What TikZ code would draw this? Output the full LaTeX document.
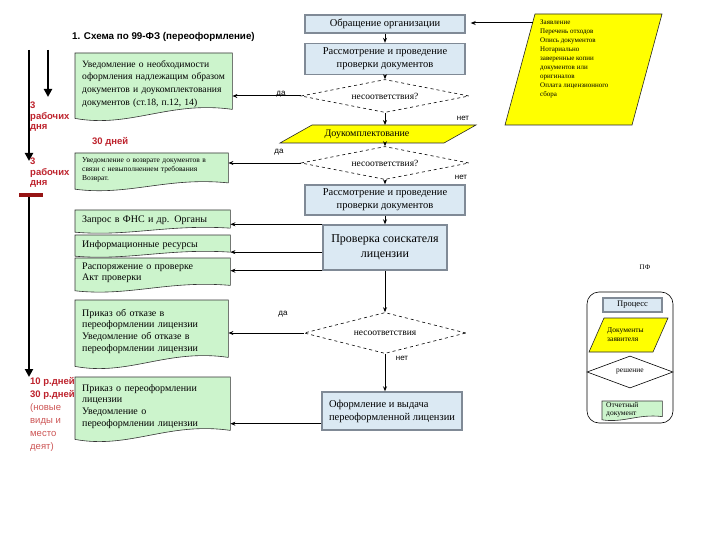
\documentclass[tikz,border=0pt]{standalone}
\usepackage{fontspec}
\setmainfont{Liberation Serif}
\newfontfamily\sansf{Liberation Sans}
\usetikzlibrary{arrows.meta,calc,backgrounds,shapes.geometric}
\definecolor{procf}{RGB}{219,233,243}
\definecolor{procb}{RGB}{128,138,150}
\definecolor{docf}{RGB}{204,244,204}
\definecolor{yel}{RGB}{255,255,0}
\definecolor{lab}{RGB}{190,35,45}
\definecolor{labl}{RGB}{205,85,85}
\definecolor{barc}{RGB}{150,20,20}
\tikzset{
  proc/.style={draw=procb, line width=1.4pt, fill=procf, align=center, inner sep=1pt, font=\fontsize{10.5}{13}\selectfont},
  decide/.style={diamond, draw, dashed, line width=0.6pt, fill=white, aspect=5, inner sep=0pt, font=\fontsize{9.5}{10}\selectfont},
  docn/.style={anchor=north west, inner xsep=7pt, inner ysep=0pt, align=left, font=\fontsize{10}{11.7}\selectfont},
  docshape/.style={draw=black!80, line width=0.6pt, fill=docf},
  yshape/.style={draw=black!85, line width=0.6pt, fill=yel},
  arr/.style={-{Stealth[length=5pt,width=4pt]}, line width=0.8pt},
  tl/.style={line width=2.6pt, -{Triangle[length=8pt,width=8pt]}},
  redlab/.style={text=lab, font=\sansf\bfseries\fontsize{9.5}{10.5}\selectfont, align=left, inner sep=0pt},
  small/.style={font=\sansf\fontsize{8}{9}\selectfont, inner sep=0pt},
}
\begin{document}
\begin{tikzpicture}[x=1pt,y=-1pt]
\useasboundingbox (0,0) rectangle (720,540);

% title
\node[anchor=west, inner sep=0pt, font=\sansf\bfseries\fontsize{9.8}{11}\selectfont] (title) at (72,37) {1. Схема по 99-ФЗ (переоформление)};

% timeline
\coordinate (t1a) at (29,50); \coordinate (t1b) at (29,161);
\coordinate (t2a) at (48,50); \coordinate (t2b) at (48,97);
\coordinate (bl) at (19,195); \coordinate (br) at (43,195);
\coordinate (t3a) at (29,195); \coordinate (t3b) at (29,377);
\draw[tl] (t1a) -- (t1b);
\draw[tl] (t2a) -- (t2b);
\draw[tl] (t3a) -- (t3b);
\draw[barc, line width=4pt] (bl) -- (br);

% red labels
\node[redlab, anchor=north west] (lab1) at (30,102) {3\\рабочих\\дня};
\node[redlab, anchor=north west] (lab2) at (30,158) {3\\рабочих\\дня};
\node[redlab, anchor=west] (lab3) at (92,142) {30 дней};
\node[redlab, anchor=north west, font=\sansf\bfseries\fontsize{9.5}{13}\selectfont] (lab4) at (30,377) {10 р.дней\\30 р.дней};
\node[redlab, anchor=north west, text=labl, font=\sansf\fontsize{9.5}{13}\selectfont] (lab5) at (30,403) {(новые\\виды и\\место\\деят)};

% left documents
\node[docn, text width=143pt, minimum height=61pt, font=\fontsize{9.6}{12.7}\selectfont] (doc1) at (75,53) {Уведомление о необходимости\\оформления надлежащим образом\\документов и доукомплектования\\документов (ст.18, п.12, 14)};
\node[docn, text width=139pt, minimum height=33pt, font=\fontsize{7.5}{9}\selectfont] (doc2) at (75,153) {Уведомление о возврате документов в\\связи с невыполнением требования\\Возврат.};
\node[docn, text width=141pt, minimum height=20pt] (doc3) at (75,210) {Запрос в ФНС и др. Органы};
\node[docn, text width=141pt, minimum height=19pt] (doc4) at (75,235) {Информационные ресурсы};
\node[docn, text width=141pt, minimum height=30pt, font=\fontsize{10}{11}\selectfont] (doc5) at (75,258) {Распоряжение о проверке\\Акт проверки};
\node[docn, text width=139pt, minimum height=62pt] (doc6) at (75,300) {Приказ об отказе в\\переоформлении лицензии\\Уведомление об отказе в\\переоформлении лицензии};
\node[docn, text width=141pt, minimum height=58pt] (doc7) at (75,377) {Приказ о переоформлении\\лицензии\\Уведомление о\\переоформлении лицензии};

% right request parallelogram
\draw[yshape] (535,14) -- (662,14) -- (632,125) -- (505,125) -- cycle;
\node[anchor=north west, align=left, inner sep=0pt, font=\fontsize{7}{9}\selectfont] (req) at (540,20) {Заявление\\Перечень отходов\\Опись документов\\Нотариально\\заверенные копии\\документов или\\оригиналов\\Оплата лицензионного\\сбора};
\coordinate (reqL) at (533,23);

% centre column
\node[proc, minimum width=160pt, minimum height=18pt] (b1) at (385,24) {Обращение организации};
\node[proc, minimum width=160pt, minimum height=31pt] (b2) at (385,59) {Рассмотрение и проведение\\проверки документов};
\node[decide, minimum width=168pt, minimum height=33pt] (dm1) at (385,96) {несоответствия?};
\draw[yshape] (280,143) -- (312,125) -- (476,125) -- (444,143) -- cycle;
\coordinate (p1t) at (385,125); \coordinate (p1b) at (385,143);
\node[font=\fontsize{10}{12}\selectfont, inner sep=0pt] (p1) at (367,134) {Доукомплектование};
\node[decide, minimum width=168pt, minimum height=33pt] (dm2) at (385,163) {несоответствия?};
\node[proc, minimum width=160pt, minimum height=30pt] (b3) at (385,200) {Рассмотрение и проведение\\проверки документов};
\node[proc, minimum width=124pt, minimum height=45pt, font=\fontsize{12}{15}\selectfont] (chk) at (385,247.5) {Проверка соискателя\\лицензии};
\node[decide, minimum width=162pt, minimum height=41pt] (dm3) at (385,333) {несоответствия};
\node[proc, minimum width=140pt, minimum height=38pt, align=left] (out) at (392,411) {Оформление и выдача\\переоформленной лицензии};

% legend
\node[font=\fontsize{7}{8}\selectfont, inner sep=0pt] (pf) at (645,267) {ПФ};
\draw[line width=0.6pt, rounded corners=12pt] (587,292) rectangle (673,423);
\node[proc, minimum width=59pt, minimum height=14pt, line width=1.2pt, font=\fontsize{8.5}{9}\selectfont] (lp) at (632.5,305) {Процесс};
\draw[yshape] (589,352) -- (604,318) -- (668,318) -- (653,352) -- cycle;
\node[anchor=west, align=left, inner sep=0pt, font=\fontsize{7.5}{9}\selectfont] (ld) at (607,335) {Документы\\заявителя};
\node[diamond, draw, line width=0.6pt, fill=white, aspect=5, inner sep=0pt, minimum width=86pt, minimum height=32pt, font=\fontsize{7.5}{8}\selectfont] (ldm) at (630,372) {решение};
\node[docn, text width=52pt, minimum height=17pt, inner xsep=4pt, font=\fontsize{7.5}{8.5}\selectfont] (lg) at (602,401) {Отчетный\\документ};

% document shapes behind their texts
\begin{pgfonlayer}{background}
\fill[white] (0,0) rectangle (720,540);
\foreach \n/\a in {doc1/1,doc2/0.7,doc3/0.45,doc4/0.45,doc5/0.6,doc6/1,doc7/1,lg/0.35}{
  \draw[docshape] (\n.north west) -- ($(\n.south west)+(0,4*\a)$)
     .. controls ($(\n.south west)!0.35!(\n.south east)+(0,14*\a)$) and ($(\n.south west)!0.6!(\n.south east)+(0,-14*\a)$) .. ($(\n.south east)+(0,-5*\a)$)
     -- (\n.north east) -- cycle;
}
\end{pgfonlayer}

% vertical connectors
\draw[arr] (b1) -- (b2);
\draw[arr] (b2) -- (dm1);
\draw[arr] (dm1) -- (p1t);
\draw[arr] (p1b) -- (dm2);
\draw[arr] (dm2) -- (b3);
\draw[arr] (b3) -- (chk);
\draw[arr] (chk) -- (dm3);
\draw[arr] (dm3.south) -- (dm3.south |- out.north);

% request arrow
\draw[arr, line width=1pt, shorten >=5pt] (reqL) -- (reqL -| b1.east);

% horizontal connectors
\draw[arr, line width=1pt] (dm1.west) -- (dm1.west -| doc1.east);
\draw[arr] (dm2.west) -- (dm2.west -| doc2.east);
\coordinate (chkm) at ($(chk.north west)!0.6!(chk.south west)$);
\draw[arr] (chk.north west) -- (chk.north west -| doc3.east);
\draw[arr, line width=0.6pt] (chkm) -- (chkm -| doc4.east);
\draw[arr] (chk.south west) -- (chk.south west -| doc5.east);
\draw[arr, line width=1pt] (dm3.west) -- (dm3.west -| doc6.east);
\coordinate (outl) at ($(out.south west)+(0,-7)$);
\draw[arr, line width=0.6pt] (outl) -- (outl -| doc7.east);

% yes / no labels
\node[small] (da1) at (281,94) {да};
\node[small] (net1) at (463,118) {нет};
\node[small] (da2) at (279,152) {да};
\node[small] (net2) at (461,177) {нет};
\node[small] (da3) at (283,314) {да};
\node[small] (net3) at (402,358) {нет};
\end{tikzpicture}
\end{document}
